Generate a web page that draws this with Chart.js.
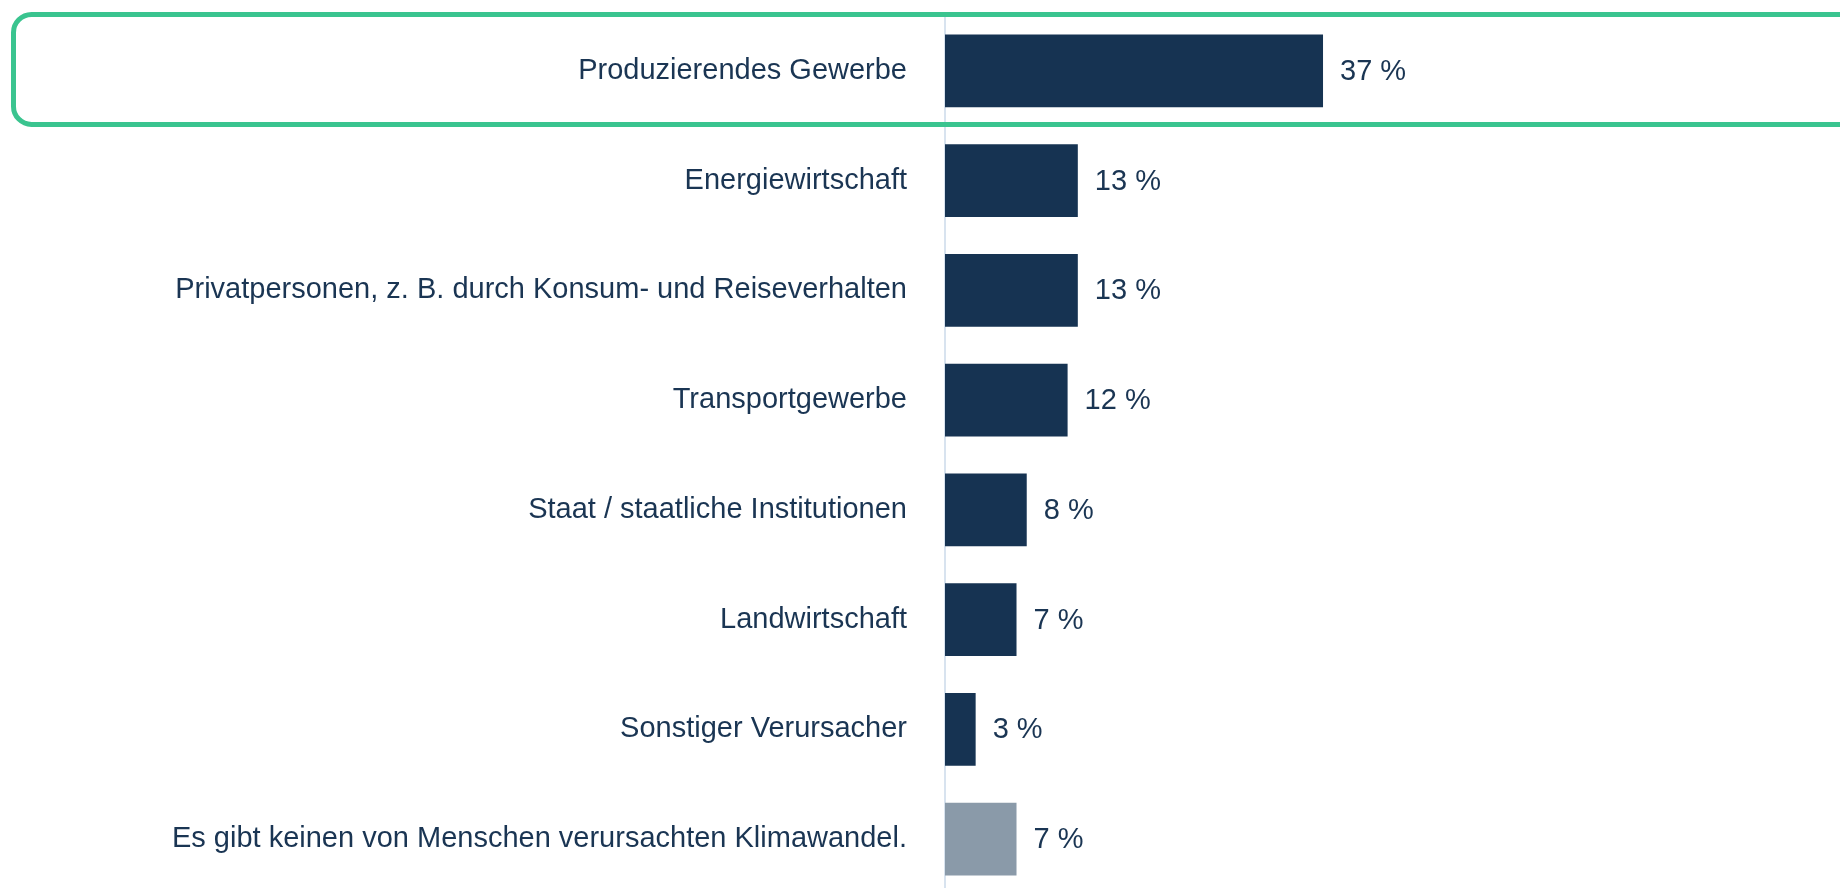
<!DOCTYPE html>
<html>
<head>
<meta charset="utf-8">
<script src="https://cdn.jsdelivr.net/npm/chart.js@4"></script>
<style>
    html, body { margin: 0; padding: 0; background: #ffffff; overflow: hidden; }
    #wrap { position: relative; width: 1840px; height: 894px; }
</style>
</head>
<body>
<div id="wrap"><canvas id="chart"></canvas></div>
<script>
const categories = [
    'Produzierendes Gewerbe',
    'Energiewirtschaft',
    'Privatpersonen, z. B. durch Konsum- und Reiseverhalten',
    'Transportgewerbe',
    'Staat / staatliche Institutionen',
    'Landwirtschaft',
    'Sonstiger Verursacher',
    'Es gibt keinen von Menschen verursachten Klimawandel.'
];
const values = [37, 13, 13, 12, 8, 7, 3, 7];

const navy = '#163352';
const grey = '#8a9aa9';
const textColor = '#1a3553';
const font = { family: "'Liberation Sans', Arial, sans-serif", size: 29 };

// last answer ("no man-made climate change") is drawn in grey
const barColors = values.map((v, i) => i === values.length - 1 ? grey : navy);

const valueLabels = {
    id: 'valueLabels',
    afterDatasetsDraw(chart) {
        const ctx = chart.ctx;
        const meta = chart.getDatasetMeta(0);
        ctx.save();
        ctx.font = font.size + 'px ' + font.family;
        ctx.fillStyle = textColor;
        ctx.textAlign = 'left';
        ctx.textBaseline = 'middle';
        meta.data.forEach((bar, i) => {
            ctx.fillText(values[i] + ' %', bar.x + 17, bar.y + 1);
        });
        ctx.restore();
    }
};

const highlight = {
    id: 'highlight',
    afterDraw(chart) {
        const ctx = chart.ctx;
        const y = chart.scales.y;
        const yc = y.getPixelForValue(0);
        ctx.save();
        ctx.strokeStyle = '#3ac48f';
        ctx.lineWidth = 5;
        ctx.beginPath();
        ctx.roundRect(13.5, yc - 56.5, chart.width + 40, 110, 18);
        ctx.stroke();
        ctx.restore();
    }
};

new Chart('chart', {
    type: 'bar',
    data: {
        labels: categories,
        datasets: [{
            data: values,
            backgroundColor: barColors,
            borderWidth: 0,
            categoryPercentage: 1,
            barPercentage: 0.665
        }]
    },
    options: {
        indexAxis: 'y',
        responsive: true,
        maintainAspectRatio: false,
        animation: false,
        layout: { padding: { top: 16, right: 0, bottom: 0, left: 0 } },
        plugins: {
            legend: { display: false },
            tooltip: { enabled: false }
        },
        scales: {
            x: {
                display: false,
                min: 0,
                max: 87.6
            },
            y: {
                afterFit(scale) {
                    scale.width = 945;
                    scale.paddingTop = 0;
                    scale.paddingBottom = 0;
                },
                grid: { display: false, drawTicks: false },
                border: { display: true, color: '#d8e3ef', width: 2 },
                ticks: {
                    color: textColor,
                    font: font,
                    padding: 38
                }
            }
        }
    },
    plugins: [valueLabels, highlight]
});
</script>
</body>
</html>
